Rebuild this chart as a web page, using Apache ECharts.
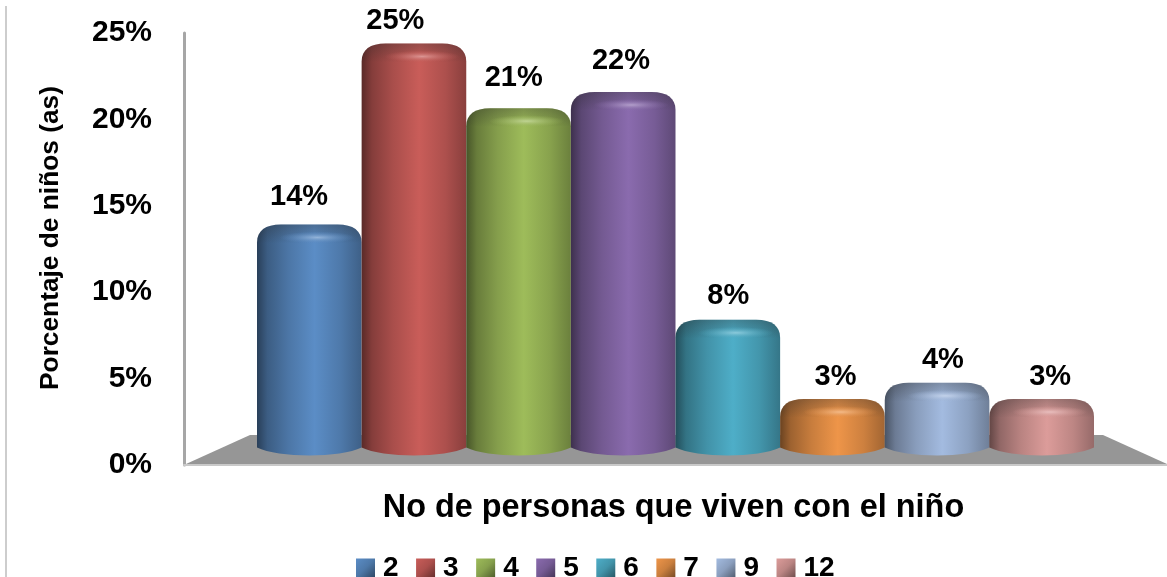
<!DOCTYPE html>
<html>
<head>
<meta charset="utf-8">
<title>No de personas que viven con el niño</title>
<script src="https://cdn.jsdelivr.net/npm/echarts@6/dist/echarts.min.js"></script>
<style>
html,body{margin:0;padding:0;background:#fff;}
#chart{width:1167px;height:577px;}
</style>
</head>
<body>
<div id="chart"></div>
<script>
var categories = ['2','3','4','5','6','7','9','12'];
var barValues = [13.8,25,21,22,7.9,3,4,3];
var barColors = ['#5b8dc6','#c95d59','#9ebc5a','#8a6bae','#4eaec8','#ee9549','#a3bbe0','#dc9c9a'];
var yMin = 0, yMax = 25, yStep = 5;

var textFont = '"Liberation Sans", Arial, sans-serif';
var chart = echarts.init(document.getElementById('chart'), null, {renderer:'canvas'});

// 颜色加深，f为亮度系数
function shade(color, f){
	var c = echarts.color.parse(color);
	return 'rgb('+Math.round(c[0]*f)+','+Math.round(c[1]*f)+','+Math.round(c[2]*f)+')';
}

// 圆柱
function renderBar(params, api){
	var top = api.coord([api.value(0), api.value(1)]);
	var base = api.coord([api.value(0), 0])[1];
	var w = api.size([1,0])[0];
	var x0 = top[0]-w/2, x1 = top[0]+w/2, y = top[1];
	var rx = 24, ry = 18, b = 8;
	var color = barColors[params.seriesIndex];
	var d = 'M'+x0+' '+base+'L'+x0+' '+(y+ry)
		+'C'+x0+' '+(y+ry*0.35)+' '+(x0+rx*0.35)+' '+y+' '+(x0+rx)+' '+y
		+'L'+(x1-rx)+' '+y
		+'C'+(x1-rx*0.35)+' '+y+' '+x1+' '+(y+ry*0.35)+' '+x1+' '+(y+ry)
		+'L'+x1+' '+base
		+'C'+(x1-w*0.2)+' '+(base+b*1.33)+' '+(x0+w*0.2)+' '+(base+b*1.33)+' '+x0+' '+base+'Z';
	var capD = 'M'+x0+' '+(y+ry)
		+'C'+x0+' '+(y+ry*0.35)+' '+(x0+rx*0.35)+' '+y+' '+(x0+rx)+' '+y
		+'L'+(x1-rx)+' '+y
		+'C'+(x1-rx*0.35)+' '+y+' '+x1+' '+(y+ry*0.35)+' '+x1+' '+(y+ry)
		+'C'+(x1-w*0.2)+' '+(y+ry+1)+' '+(x0+w*0.2)+' '+(y+ry+1)+' '+x0+' '+(y+ry)+'Z';
	return {
		type:'group',
		children:[{
			type:'path',
			shape:{pathData:d,layout:'cover',x:x0,y:y,width:w,height:base+b-y},
			style:{fill:{type:'linear',x:0,y:0,x2:1,y2:0,colorStops:[
				{offset:0,color:shade(color,0.45)},
				{offset:0.1,color:shade(color,0.66)},
				{offset:0.3,color:shade(color,0.84)},
				{offset:0.55,color:color},
				{offset:0.8,color:shade(color,0.86)},
				{offset:1,color:shade(color,0.68)}
			]}}
		},{
			type:'path',
			shape:{pathData:capD,layout:'cover',x:x0,y:y,width:w,height:ry+0.75},
			style:{fill:{type:'linear',x:0,y:0,x2:0,y2:1,colorStops:[
				{offset:0,color:'rgba(40,40,40,0.3)'},
				{offset:1,color:'rgba(40,40,40,0)'}
			]}}
		},{
			type:'circle',
			x:top[0]+8,
			y:y+13,
			scaleY:0.16,
			shape:{cx:0,cy:0,r:w*0.36},
			style:{fill:{type:'radial',x:0.5,y:0.5,r:0.5,colorStops:[
				{offset:0,color:echarts.color.lift(color,0.35)},
				{offset:1,color:echarts.color.modifyAlpha(color,0)}
			]}}
		}]
	};
}

// 数值标签，顶部放不下时左移并压回图表内
function renderLabel(params, api){
	var p = api.coord([api.value(0), api.value(1)]);
	var clamped = p[1] < 21;
	return {
		type:'text',
		x:clamped ? p[0]-11 : p[0],
		y:clamped ? 21 : p[1],
		style:{
			text:Math.round(api.value(1))+'%',
			textAlign:'center',
			textVerticalAlign:'middle',
			fontFamily:textFont,
			fontWeight:'bold',
			fontSize:29,
			fill:'#000'
		}
	};
}

var series = [];
var legendData = [];
for(var k in categories){
	var i = Number(k);
	series.push({
		name:categories[i],
		type:'custom',
		xAxisIndex:1,
		yAxisIndex:1,
		z:3,
		renderItem:renderBar,
		encode:{x:0,y:1},
		data:[[i,barValues[i]]]
	});
	legendData.push({
		name:categories[i],
		itemStyle:{color:{type:'linear',x:0,y:0,x2:1,y2:1,colorStops:[
			{offset:0,color:barColors[i]},
			{offset:0.5,color:shade(barColors[i],0.85)},
			{offset:1,color:shade(barColors[i],0.5)}
		]}}
	});
}
series.push({
	name:'labels',
	type:'custom',
	xAxisIndex:2,
	yAxisIndex:2,
	z:4,
	renderItem:renderLabel,
	encode:{x:0,y:1},
	data:barValues.map(function(v,i){return [i,v];})
});

var option = {
	animation:false,
	backgroundColor:'#fff',
	textStyle:{fontFamily:textFont},
	grid:[
		{left:184,top:33,width:983,height:432},	// 坐标轴
		{left:257,top:43.5,width:837,height:404},	// 圆柱，透视后比例不同
		{left:245.4,top:11,width:858.4,height:416}	// 标签
	],
	xAxis:[
		{gridIndex:0,type:'category',data:categories,
			name:'No de personas que viven con el niño',nameLocation:'middle',nameGap:27,
			nameTextStyle:{color:'#000',fontWeight:'bold',fontSize:32.4,fontFamily:textFont,padding:[0,4,0,0]},
			axisLine:{lineStyle:{color:'#c9c9c9',width:2}},axisTick:{show:false},axisLabel:{show:false}},
		{gridIndex:1,type:'category',data:categories,show:false},
		{gridIndex:2,type:'category',data:categories,show:false}
	],
	yAxis:[
		{gridIndex:0,type:'value',min:yMin,max:yMax,interval:yStep,
			name:'Porcentaje de niños (as)',nameLocation:'middle',nameGap:120,
			nameTextStyle:{color:'#000',fontWeight:'bold',fontSize:26.3,fontFamily:textFont,padding:[0,0,0,22]},
			axisLine:{show:true,lineStyle:{color:'#a6a6a6',width:3}},axisTick:{show:false},
			splitLine:{show:false},
			axisLabel:{formatter:'{value}%',margin:32,color:'#000',fontWeight:'bold',fontSize:30,fontFamily:textFont,padding:[4,0,0,0]}},
		{gridIndex:1,type:'value',min:yMin,max:yMax,show:false},
		{gridIndex:2,type:'value',min:yMin,max:yMax,show:false}
	],
	legend:{
		left:351,
		top:549,
		icon:'rect',
		itemWidth:19,
		itemHeight:19,
		itemGap:17.5,
		itemStyle:{borderWidth:0},
		textStyle:{color:'#000',fontWeight:'bold',fontSize:28,fontFamily:textFont,padding:[0,0,0,3]},
		data:legendData
	},
	graphic:[
		{type:'polygon',z:1,silent:true,
			shape:{points:[[186,464],[250,435],[1103,435],[1167,464]]},
			style:{fill:'#969696'}},
		{type:'line',z:1,silent:true,
			shape:{x1:6,y1:6,x2:6,y2:577},
			style:{stroke:'#bdbdbd',lineWidth:1.5}}
	],
	series:series
};
chart.setOption(option);
</script>
</body>
</html>
